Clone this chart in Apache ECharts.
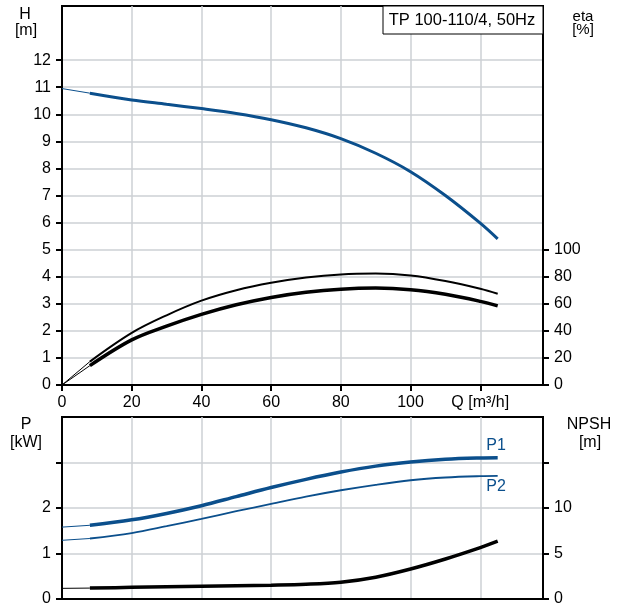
<!DOCTYPE html>
<html>
<head>
<meta charset="utf-8">
<script src="https://cdn.jsdelivr.net/npm/echarts@6/dist/echarts.min.js"></script>
<style>
html,body{margin:0;padding:0;background:#fff;}
#c{width:619px;height:608px;}
</style>
</head>
<body>
<div id="c"></div>
<script>
// ---- data ----
var flowQ = [8, 20, 30, 40, 50, 60, 70, 80, 90, 100, 110, 120, 125];
var headH = [10.78, 10.53, 10.37, 10.21, 10.03, 9.8, 9.5, 9.1, 8.56, 7.88, 7.0, 5.98, 5.4];
var etaUpper = [17.3, 38.5, 51.5, 62.3, 70, 75.5, 79.4, 81.7, 82.3, 80.9, 76.8, 71.1, 67.4];
var etaLower = [14.3, 33.3, 43.5, 52.2, 59.3, 64.7, 68.5, 70.8, 71.6, 70.4, 67.0, 61.8, 58.5];
var powerP1 = [1.62, 1.74, 1.88, 2.05, 2.25, 2.45, 2.63, 2.79, 2.92, 3.01, 3.07, 3.1, 3.105];
var powerP2 = [1.33, 1.45, 1.6, 1.76, 1.93, 2.09, 2.25, 2.39, 2.51, 2.61, 2.67, 2.7, 2.705];
var npshR = [1.2, 1.28, 1.35, 1.41, 1.46, 1.52, 1.62, 1.85, 2.4, 3.3, 4.4, 5.65, 6.35];
// values at Q = 0 (thin extension)
var zeroQ = 0;
var headAt0 = 10.95, etaUpperAt0 = 0, etaLowerAt0 = 0, p1At0 = 1.58, p2At0 = 1.29, npshAt0 = 1.17;
var qTicks = [0, 20, 40, 60, 80, 100, 120];
var hLabels = [0,1,2,3,4,5,6,7,8,9,10,11,12];
var etaLabels = [0,20,40,60,80,100];
var pLabels = [0,1,2];
var pTicks = [0,1,2,3];
var npshLabels = [0,5,10];
var npshTicks = [0,5,10,15];
var titleText = 'TP 100-110/4, 50Hz';

function pairs(xs, ys){ return xs.map(function(x,i){ return [x, ys[i]]; }); }
function ext(y0, ys){ return [[zeroQ, y0], [flowQ[0], ys[0]]]; }

var BLUE = '#0b4f8c';
var GRID = '#cdd1d4';
var FONT = 'Liberation Sans, Arial, sans-serif';

function xAx(gi, showLabels){
  return {
    type:'value', gridIndex:gi, min:0, max:138, interval:20,
    axisLine:{show:true, lineStyle:{color:'#000', width:2}},
    axisTick:{show:showLabels, length:6, lineStyle:{color:'#000', width:2}, customValues: qTicks},
    axisLabel:{show:showLabels, color:'#000', fontSize:16, fontFamily:FONT, margin:10,
      customValues: qTicks,
      formatter:function(v){ return v===120 ? 'Q [m³/h]' : String(v); }},
    splitLine:{show:true, lineStyle:{color:GRID, width:1.5}}
  };
}
function yAx(gi, pos, min, max, interval, labels, ticks, split){
  return {
    type:'value', gridIndex:gi, position:pos, min:min, max:max, interval:interval,
    axisLine:{show:true, onZero:false, lineStyle:{color:'#000', width:2}},
    axisTick:{show:true, length:6, lineStyle:{color:'#000', width:2}, customValues: ticks},
    axisLabel:{show:true, color:'#000', fontSize:16, fontFamily:FONT, margin:11, customValues: labels},
    splitLine:{show:split, lineStyle:{color:GRID, width:1.5}}
  };
}
function line(name, xi, yi, data, color, width){
  return {name:name, type:'line', xAxisIndex:xi, yAxisIndex:yi, data:data, showSymbol:false,
    smooth:0.35, smoothConstraint:false, lineStyle:{color:color, width:width}, z:3, silent:true};
}
function thin(name, xi, yi, data, color){
  return {name:name, type:'line', xAxisIndex:xi, yAxisIndex:yi, data:data, showSymbol:false,
    smooth:false, lineStyle:{color:color, width:1}, z:3, silent:true};
}

var chart = echarts.init(document.getElementById('c'), null, {renderer:'canvas'});
chart.setOption({
  animation:false,
  backgroundColor:'#fff',
  textStyle:{fontFamily:FONT},
  grid:[
    {left:62, top:6, width:481, height:379, show:true, borderColor:'#000', borderWidth:2, backgroundColor:'transparent'},
    {left:62, top:417, width:481, height:182, show:true, borderColor:'#000', borderWidth:2, backgroundColor:'transparent'}
  ],
  xAxis:[ xAx(0, true), xAx(1, false) ],
  yAxis:[
    yAx(0, 'left', 0, 14, 1, hLabels, hLabels, true),
    yAx(0, 'right', 0, 280, 20, etaLabels, etaLabels, false),
    yAx(1, 'left', 0, 4, 1, pLabels, pTicks, true),
    yAx(1, 'right', 0, 20, 5, npshLabels, npshTicks, false)
  ],
  series:[
    thin('H0', 0, 0, ext(headAt0, headH), BLUE),
    line('H', 0, 0, pairs(flowQ, headH), BLUE, 3),
    thin('eta1_0', 0, 1, ext(etaUpperAt0, etaUpper), '#000'),
    line('eta1', 0, 1, pairs(flowQ, etaUpper), '#000', 2),
    thin('eta2_0', 0, 1, ext(etaLowerAt0, etaLower), '#000'),
    line('eta2', 0, 1, pairs(flowQ, etaLower), '#000', 3.5),
    thin('P1_0', 1, 2, ext(p1At0, powerP1), BLUE),
    line('P1', 1, 2, pairs(flowQ, powerP1), BLUE, 3.5),
    thin('P2_0', 1, 2, ext(p2At0, powerP2), BLUE),
    line('P2', 1, 2, pairs(flowQ, powerP2), BLUE, 1.8),
    thin('NPSH_0', 1, 3, ext(npshAt0, npshR), '#000'),
    line('NPSH', 1, 3, pairs(flowQ, npshR), '#000', 3.5)
  ],
  graphic:[
    {type:'rect', z:10, shape:{x:383, y:6, width:160, height:28}, style:{fill:'#fff', stroke:'#000', lineWidth:1}},
    {type:'text', z:11, x:462, y:20, style:{text:titleText, fill:'#000', font:'16.5px '+FONT, align:'center', verticalAlign:'middle'}},
    {type:'text', x:25, y:15, style:{text:'H', fill:'#000', font:'16px '+FONT, align:'center', verticalAlign:'middle'}},
    {type:'text', x:26, y:31, style:{text:'[m]', fill:'#000', font:'16px '+FONT, align:'center', verticalAlign:'middle'}},
    {type:'text', x:583, y:17, style:{text:'eta', fill:'#000', font:'15px '+FONT, align:'center', verticalAlign:'middle'}},
    {type:'text', x:583, y:30, style:{text:'[%]', fill:'#000', font:'15px '+FONT, align:'center', verticalAlign:'middle'}},
    {type:'text', x:26, y:425, style:{text:'P', fill:'#000', font:'16px '+FONT, align:'center', verticalAlign:'middle'}},
    {type:'text', x:26, y:443, style:{text:'[kW]', fill:'#000', font:'16px '+FONT, align:'center', verticalAlign:'middle'}},
    {type:'text', x:589, y:425, style:{text:'NPSH', fill:'#000', font:'16px '+FONT, align:'center', verticalAlign:'middle'}},
    {type:'text', x:590, y:443, style:{text:'[m]', fill:'#000', font:'16px '+FONT, align:'center', verticalAlign:'middle'}},
    {type:'text', x:496, y:446, style:{text:'P1', fill:BLUE, font:'16px '+FONT, align:'center', verticalAlign:'middle'}},
    {type:'text', x:496, y:487, style:{text:'P2', fill:BLUE, font:'16px '+FONT, align:'center', verticalAlign:'middle'}}
  ]
});
</script>
</body>
</html>
